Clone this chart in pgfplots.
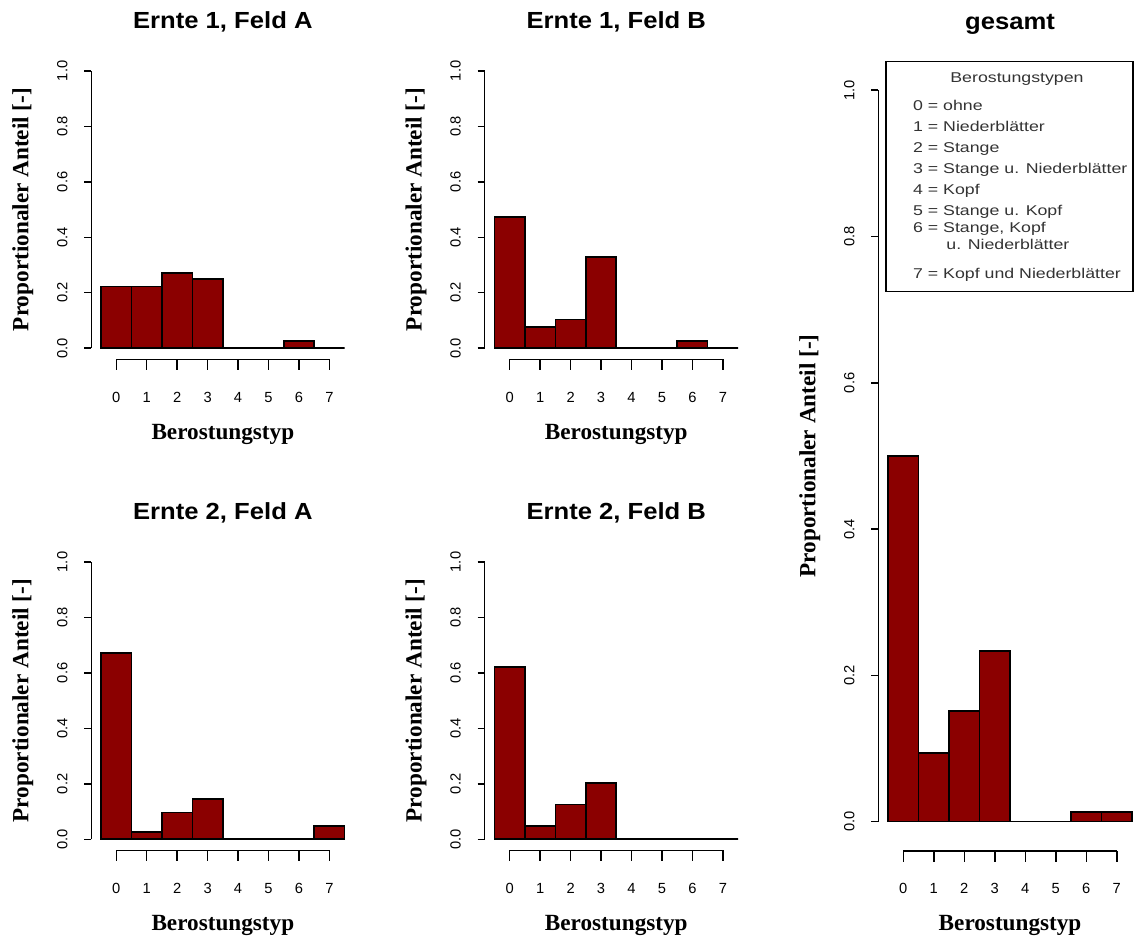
\documentclass[border=0pt]{standalone}
\usepackage{fontspec}
\setmainfont{Liberation Sans}
\newfontfamily\titlefont[FakeStretch=1.1]{Liberation Sans}
\newfontfamily\legendfont[FakeStretch=1.25]{Liberation Sans}
\newfontfamily\labelfont{Liberation Serif}
\usepackage{pgfplots}
\pgfplotsset{compat=1.18}
\definecolor{barred}{HTML}{8B0000}
\definecolor{legtext}{HTML}{333333}

\pgfplotsset{
  rostpanel/.style={
    scale only axis,
    anchor=south west,
    width=131.55pt,
    height=149.75pt,
    xmin=-0.82, xmax=7.82,
    ymin=-0.04, ymax=1.04,
    axis line style={draw=none},
    tick pos=left,
    tick align=outside,
    xtick={0,1,2,3,4,5,6,7},
    xticklabels={0,1,2,3,4,5,6,7},
    ytick={0,0.2,0.4,0.6,0.8,1.0},
    yticklabels={0.0,0.2,0.4,0.6,0.8,1.0},
    minor tick num=0,
    major tick length=3.5pt,
    xtick style={/pgfplots/major tick length=5.3pt},
    tick style={black, line width=0.75pt},
    /pgf/number format/assume math mode=true,
    ticklabel style={font=\fontsize{7.35}{8}\selectfont},
    xticklabel style={anchor=base, yshift=-18pt},
    yticklabel style={rotate=90, anchor=base, yshift=8.5pt},
    title style={at={(0.5,1)}, anchor=base, yshift=9.5pt,
      font=\titlefont\bfseries\fontsize{11.65}{13}\selectfont},
    xlabel style={at={(0.5,0)}, anchor=base, yshift=-40pt,
      font=\labelfont\bfseries\fontsize{11.6}{13}\selectfont},
    ylabel style={at={(0,0.5)}, rotate=0, anchor=base, yshift=31.5pt,
      font=\labelfont\bfseries\fontsize{11.6}{13}\selectfont},
    xlabel={Berostungstyp},
    ylabel={Proportionaler Anteil [-]},
    ybar, bar width=1, bar shift=0pt,
    clip=false,
  },
  rostbars/.style={fill=barred, draw=black, line width=0.8pt},
}

% R-style axis lines: x from the first to the last tick, y from 0 to 1
\newcommand{\raxes}{%
  \draw[line width=0.75pt] (axis cs:0,-0.04) -- (axis cs:7,-0.04);
  \draw[line width=0.75pt] (axis cs:-0.82,0) -- (axis cs:-0.82,1);
}

\begin{document}
\begin{tikzpicture}
\useasboundingbox (0,0) rectangle (567.5pt,470pt);

% Ernte 1, Feld A
\begin{axis}[rostpanel, at={(45.65pt,290.35pt)}, title={Ernte 1, Feld A}]
  \addplot[rostbars] coordinates {(0,0.222) (1,0.222) (2,0.272) (3,0.250) (4,0) (5,0) (6,0.025) (7,0)};
  \raxes
\end{axis}

% Ernte 1, Feld B
\begin{axis}[rostpanel, at={(242.37pt,290.35pt)}, title={Ernte 1, Feld B}]
  \addplot[rostbars] coordinates {(0,0.474) (1,0.077) (2,0.103) (3,0.328) (4,0) (5,0) (6,0.025) (7,0)};
  \raxes
\end{axis}

% Ernte 2, Feld A
\begin{axis}[rostpanel, at={(45.65pt,44.8pt)}, title={Ernte 2, Feld A}]
  \addplot[rostbars] coordinates {(0,0.671) (1,0.027) (2,0.097) (3,0.145) (4,0) (5,0) (6,0) (7,0.049)};
  \raxes
\end{axis}

% Ernte 2, Feld B
\begin{axis}[rostpanel, at={(242.37pt,44.8pt)}, title={Ernte 2, Feld B}]
  \addplot[rostbars] coordinates {(0,0.622) (1,0.048) (2,0.126) (3,0.202) (4,0) (5,0) (6,0) (7,0)};
  \raxes
\end{axis}

% gesamt
\begin{axis}[rostpanel, at={(439.15pt,44.52pt)}, width=131.76pt, height=395pt, title={gesamt}]
  \addplot[rostbars] coordinates {(0,0.500) (1,0.094) (2,0.151) (3,0.233) (4,0) (5,0) (6,0.013) (7,0.013)};
  \raxes
\end{axis}

% key to the rusting types
\begin{scope}[shift={(0pt,470pt)}, x=0.5pt, y=-0.5pt,
  every node/.style={inner sep=0pt, text=legtext, font=\legendfont\fontsize{7.1}{8}\selectfont}]
  \draw[line width=0.75pt] (886,61.7) rectangle (1133,291.7);
  \node[anchor=base] at (1017,83) {Berostungstypen};
  \node[anchor=base west] at (912.7,111) {0 = ohne};
  \node[anchor=base west] at (912.7,132) {1 = Niederblätter};
  \node[anchor=base west] at (912.7,153) {2 = Stange};
  \node[anchor=base west] at (912.7,174) {3 = Stange u. Niederblätter};
  \node[anchor=base west] at (912.7,195) {4 = Kopf};
  \node[anchor=base west] at (912.7,216) {5 = Stange u. Kopf};
  \node[anchor=base west] at (912.7,233) {6 = Stange, Kopf};
  \node[anchor=base west] at (946,250) {u. Niederblätter};
  \node[anchor=base west] at (912.7,279) {7 = Kopf und Niederblätter};
\end{scope}
\end{tikzpicture}
\end{document}
